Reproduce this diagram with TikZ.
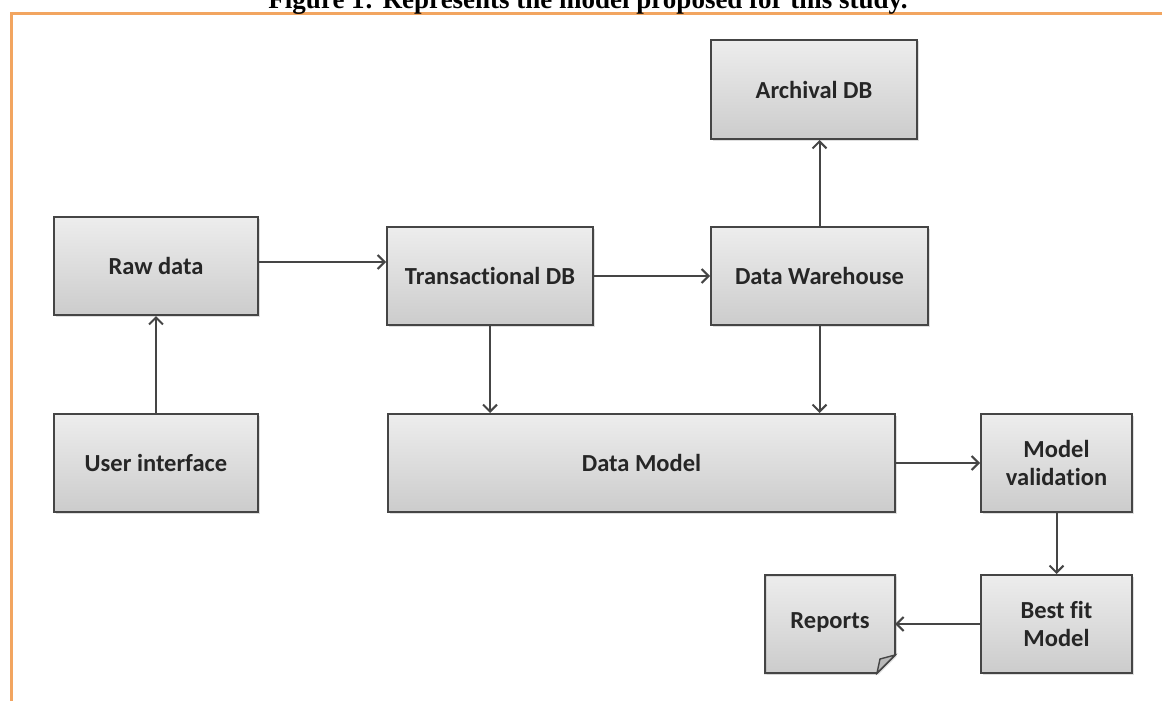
\documentclass[tikz,border=0pt]{standalone}
\usepackage{fontspec}
\setmainfont{Carlito}[RawFeature=-liga]
\newfontfamily\titlefont{Liberation Serif}
\usetikzlibrary{arrows.meta,shadows}
\definecolor{edge}{HTML}{454545}
\definecolor{txt}{HTML}{262626}
\definecolor{frame}{HTML}{F2A560}
\tikzset{
  lbl/.style={font=\fontsize{24.5}{28}\selectfont\bfseries, text=txt, align=center, inner sep=0pt},
  box/.style={lbl, draw=edge, line width=2pt, top color=gray!14, bottom color=gray!40,
    drop shadow={opacity=0.25, shadow xshift=1.5pt, shadow yshift=-1.5pt}},
  arr/.style={draw=edge, line width=2pt, -{Straight Barb[length=7pt,width=14pt,line width=2pt]}},
}
\begin{document}
\begin{tikzpicture}[x=1pt,y=-1pt]
\useasboundingbox (0,0) rectangle (1162,701);
% frame
\draw[frame, line width=3pt] (11,701) -- (11,14) -- (1162,14);
% title (partly cut by page top)
\node[anchor=base, font=\titlefont\fontsize{27}{30}\selectfont\bfseries, inner sep=0pt] (title) at (588,9) {Figure 1: Represents the model proposed for this study.};
% boxes
\node[box, minimum width=204pt, minimum height=98pt] (raw) at (156,266) {Raw data};
\node[box, minimum width=204pt, minimum height=98pt] (ui) at (156,463) {User interface};
\node[box, minimum width=206pt, minimum height=98pt] (trans) at (490,276) {Transactional DB};
\node[box, minimum width=217pt, minimum height=98pt] (dw) at (819.5,276) {Data Warehouse};
\node[box, minimum width=206pt, minimum height=99pt] (arch) at (814,89.5) {Archival DB};
\node[box, minimum width=507pt, minimum height=98pt] (dm) at (641.5,463) {Data Model};
\node[box, minimum width=151pt, minimum height=98pt] (mv) at (1056.5,463) {Model\\validation};
\node[box, minimum width=151pt, minimum height=98pt] (bf) at (1056.5,624) {Best fit\\Model};
% reports (folded corner)
\path[draw=edge, line width=2pt, top color=gray!14, bottom color=gray!40,
  drop shadow={opacity=0.25, shadow xshift=1.5pt, shadow yshift=-1.5pt}]
  (765,575) -- (895,575) -- (895,655) -- (877,673) -- (765,673) -- cycle;
\path[draw=edge, line width=1.4pt, fill=gray!55] (895,655) -- (880,659) -- (877,673) -- cycle;
\node[lbl, minimum width=130pt, minimum height=98pt] (rep) at (830,624) {\raisebox{6pt}{Reports}};
% connectors
\coordinate (r1) at ([yshift=4pt]raw.east);
\draw[arr] (r1) -- (r1 -| trans.west);
\draw[arr] (ui.north) -- (raw.south);
\draw[arr] (trans.east) -- (dw.west);
\draw[arr] (dw.north) -- (dw.north |- arch.south);
\draw[arr] (trans.south) -- (trans.south |- dm.north);
\draw[arr] (dw.south) -- (dw.south |- dm.north);
\draw[arr] (dm.east) -- (mv.west);
\draw[arr] (mv.south) -- (bf.north);
\draw[arr] (bf.west) -- (bf.west -| rep.east);
\end{tikzpicture}
\end{document}
